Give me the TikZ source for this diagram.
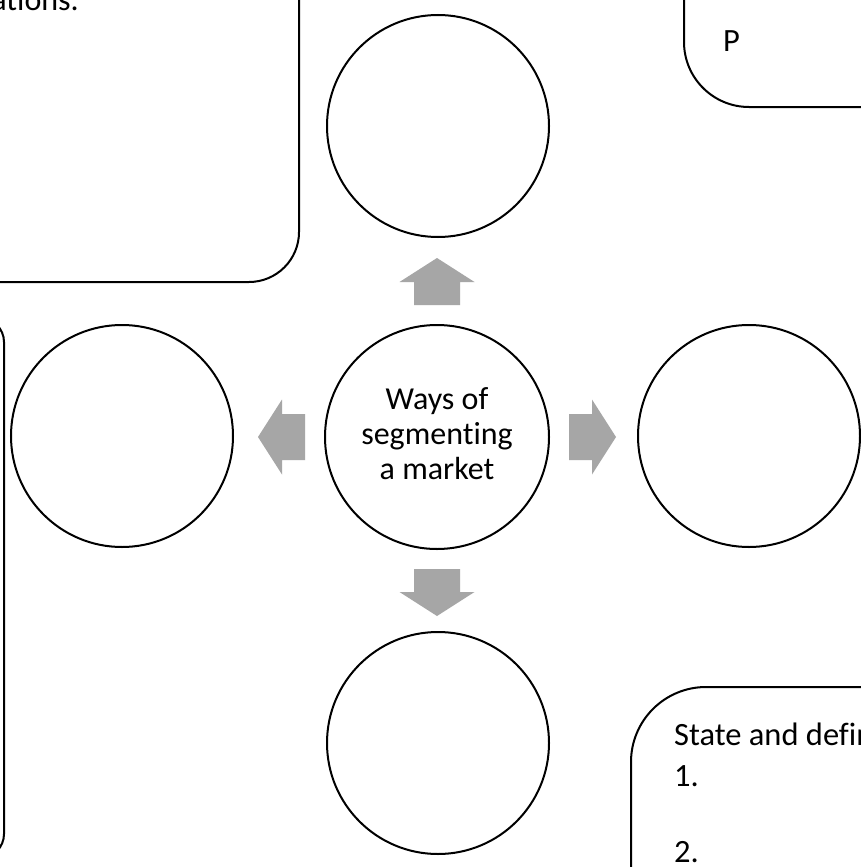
\documentclass[tikz,border=0pt]{standalone}
\usepackage{fontspec}
\setmainfont{Carlito}[Ligatures=CommonOff]
\definecolor{arrowgray}{RGB}{166,166,166}
\begin{document}
\begin{tikzpicture}[x=1pt,y=-1pt,
  outline/.style={draw=black,line width=2pt},
  ring/.style={outline,circle,inner sep=0pt,minimum size=222pt},
  boxline/.style={outline},
  label/.style={font=\fontsize{32.5}{39}\selectfont,inner sep=0pt,anchor=base west},
  blockarrow/.pic={\fill[arrowgray] (-23,132) -- (23,132) -- (23,155) -- (37.5,155) -- (0,179) -- (-37.5,155) -- (-23,155) -- cycle;}
]
\useasboundingbox (0,0) rectangle (861,867);
\fill[white] (0,0) rectangle (861,867);
\clip (0,0) rectangle (861,867);

% rounded boxes (partly outside the frame)
\draw[boxline,rounded corners=50pt] (-150,-150) rectangle (299,282);
\draw[boxline,rounded corners=65pt] (684,-150) rectangle (1050,107);
\draw[boxline,rounded corners=75pt] (631,687) rectangle (1050,1050);
\draw[boxline,rounded corners=24pt] (-200,318) rectangle (4,858);

% circles
\node[ring,minimum size=224pt] (c) at (437,437) {};
\node[align=center,inner sep=0pt,font=\fontsize{32}{35}\selectfont] (ctext) at (437,434) {Ways of\\segmenting\\a market};
\node[ring] (top) at (438,126) {};
\node[ring] (left) at (122,436) {};
\node[ring] (right) at (749,436) {};
\node[ring] (bottom) at (438,743) {};

% block arrows
\pic at (c) {blockarrow};
\pic[rotate=180] at (c) {blockarrow};
\pic[rotate=90] at (c) {blockarrow};
\pic[rotate=-90] at (c) {blockarrow};

% texts
\node[label,anchor=base east,font=\fontsize{32}{35}\selectfont] (t1) at (79,11) {ations.};
\node[label] (t2) at (723,52) {P};
\node[label] (t3) at (674,745) {State and defin};
\node[label] (t4) at (674,786) {1.};
\node[label] (t5) at (674,862) {2.};
\end{tikzpicture}
\end{document}
